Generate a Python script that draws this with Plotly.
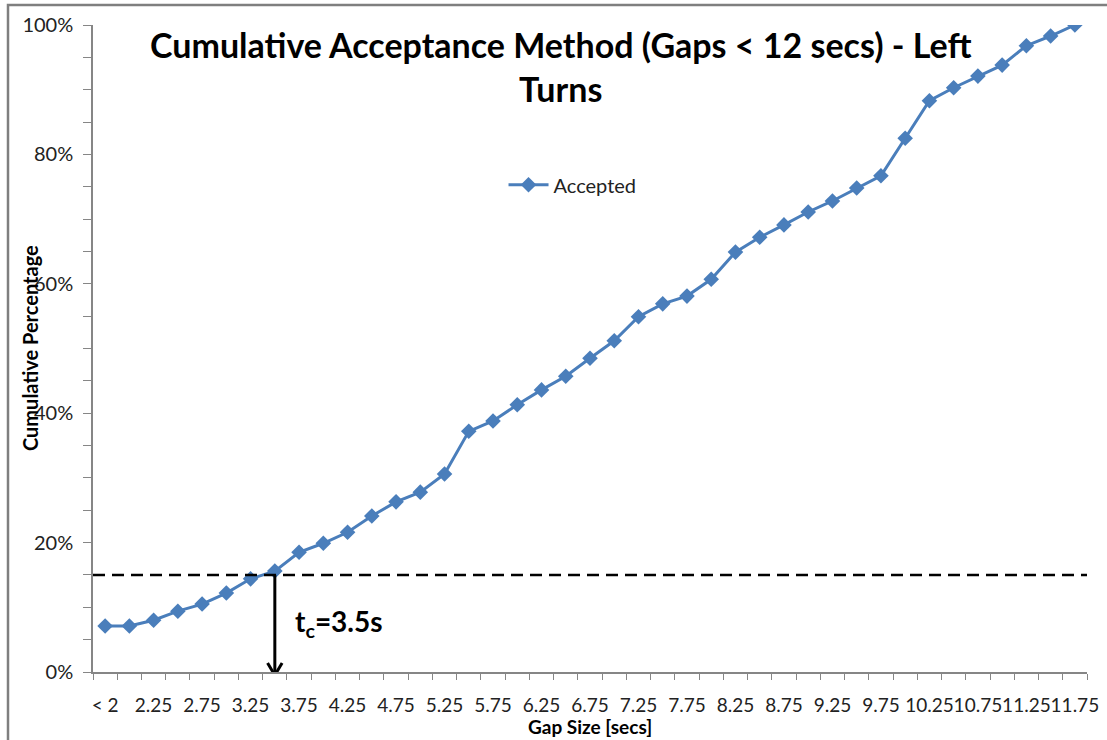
import plotly.graph_objects as go

categories = ["< 2", "2", "2.25", "2.5", "2.75", "3", "3.25", "3.5", "3.75", "4", "4.25",
              "4.5", "4.75", "5", "5.25", "5.5", "5.75", "6", "6.25", "6.5", "6.75", "7",
              "7.25", "7.5", "7.75", "8", "8.25", "8.5", "8.75", "9", "9.25", "9.5", "9.75",
              "10", "10.25", "10.5", "10.75", "11", "11.25", "11.5", "11.75"]
accepted = [7.1, 7.1, 8.0, 9.4, 10.5, 12.2, 14.4, 15.6, 18.5, 19.9, 21.6,
            24.1, 26.3, 27.8, 30.6, 37.2, 38.8, 41.3, 43.6, 45.7, 48.5, 51.2,
            54.9, 56.9, 58.1, 60.7, 64.9, 67.2, 69.1, 71.1, 72.8, 74.8, 76.7,
            82.5, 88.3, 90.3, 92.1, 93.8, 96.8, 98.3, 100.0]
threshold = 15.0
critical_gap = "3.5"

idx = list(range(len(categories)))
yvals = [v / 100 for v in accepted]
crit_i = categories.index(critical_gap)

FONT = "Lato, 'Open Sans', sans-serif"
BLUE = "#4A7EBB"
AXIS = "#868686"

fig = go.Figure()
fig.add_trace(go.Scatter(
    x=idx, y=yvals, mode="lines+markers", name="Accepted",
    line=dict(color=BLUE, width=3),
    marker=dict(symbol="diamond", size=12, color=BLUE),
))

fig.update_layout(
    width=1107, height=740,
    margin=dict(l=93, r=20, t=25, b=68, autoexpand=False),
    paper_bgcolor="white", plot_bgcolor="white",
    font=dict(family=FONT, color="#222222", size=19),
    showlegend=True,
    legend=dict(x=0.413, y=0.753, xanchor="left", yanchor="middle",
                bgcolor="rgba(0,0,0,0)", font=dict(size=20, family=FONT),
                itemwidth=40),
    xaxis=dict(
        range=[-0.5, len(categories) - 0.5],
        tickvals=idx[::2], ticktext=categories[::2], tickangle=0,
        automargin=False,
        ticks="", showgrid=False, zeroline=False,
        showline=True, linecolor=AXIS, linewidth=1.5,
        tickfont=dict(size=19), ticklabelstandoff=15,
        minor=dict(tick0=-0.5, dtick=1, ticks="outside", ticklen=6,
                   tickcolor=AXIS, showgrid=False),
    ),
    yaxis=dict(
        range=[0, 1], dtick=0.2, tickformat=".0%",
        automargin=False,
        ticks="outside", ticklen=8, tickcolor=AXIS,
        showgrid=False, zeroline=False,
        showline=True, linecolor=AXIS, linewidth=1.5,
        tickfont=dict(size=20), ticklabelstandoff=6,
        minor=dict(dtick=0.05, ticks="outside", ticklen=8, tickcolor=AXIS, showgrid=False),
    ),
)

# threshold dashed line
fig.add_shape(type="line", xref="paper", yref="y", x0=0, x1=1,
              y0=threshold / 100, y1=threshold / 100,
              line=dict(color="black", width=2.5, dash="12px,7px"))

# arrow down to critical gap (shaft + open chevron head)
tip = -0.005
fig.add_shape(type="line", xref="x", yref="y", x0=crit_i, x1=crit_i,
              y0=threshold / 100, y1=tip + 0.002, line=dict(color="black", width=3))
for side in (-0.3, 0.3):
    fig.add_shape(type="line", xref="x", yref="y", x0=crit_i + side, x1=crit_i,
                  y0=tip + 0.019, y1=tip, line=dict(color="black", width=3))

fig.add_annotation(x=crit_i + 0.75, y=0.076, xref="x", yref="y",
                   text="<b>t<sub>c</sub>=3.5s</b>", showarrow=False,
                   xanchor="left", yanchor="middle",
                   font=dict(size=28, family=FONT, color="black"))

# chart title
fig.add_annotation(x=(560 - 93) / 994, y=1.005, xref="paper", yref="paper",
                   text="<b>Cumulative Acceptance Method (Gaps < 12 secs) - Left<br>Turns</b>",
                   showarrow=False, xanchor="center", yanchor="top",
                   font=dict(size=34, family=FONT, color="black"))

# axis titles
fig.add_annotation(x=(30 - 93) / 994, y=(672 - 348) / 647, xref="paper", yref="paper",
                   text="<b>Cumulative Percentage</b>", textangle=-90,
                   showarrow=False, xanchor="center", yanchor="middle",
                   font=dict(size=20, family=FONT, color="black"))
fig.add_annotation(x=(590 - 93) / 994, y=-(726 - 672) / 647, xref="paper", yref="paper",
                   text="<b>Gap Size [secs]</b>",
                   showarrow=False, xanchor="center", yanchor="middle",
                   font=dict(size=19, family=FONT, color="black"))

# outer frame (left and top edges visible)
fig.add_shape(type="rect", xref="paper", yref="paper",
              x0=(8 - 93) / 994, x1=1.1, y0=-0.2, y1=(672 - 5) / 647,
              line=dict(color="#7F7F7F", width=2.5), layer="below")

fig.write_html("out.html", config={"displayModeBar": False},
               post_script="document.body.style.margin='0';")
